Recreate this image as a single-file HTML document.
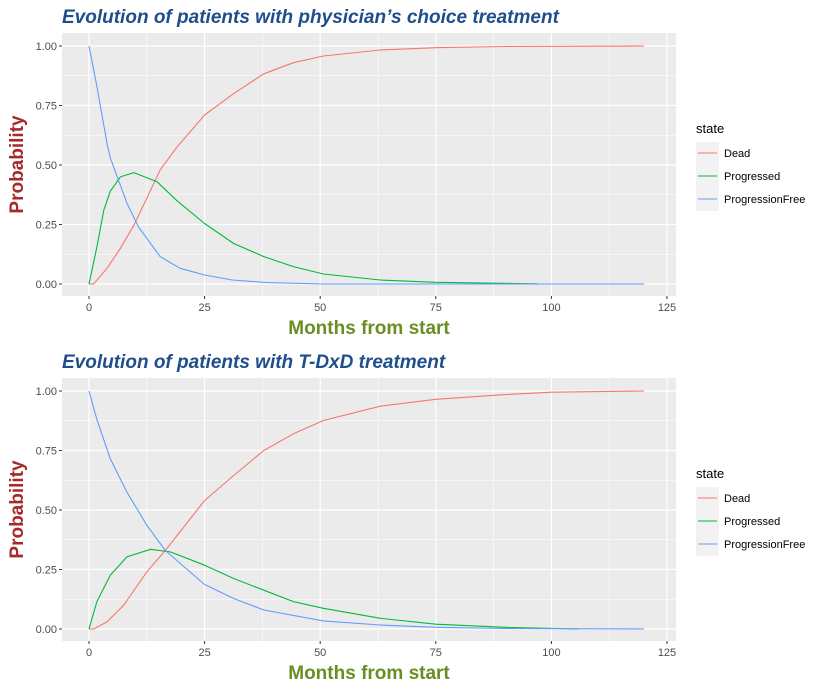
<!DOCTYPE html>
<html><head><meta charset="utf-8"><style>
body{margin:0;background:#fff;width:830px;height:691px;overflow:hidden;font-family:"Liberation Sans",sans-serif}
</style></head><body>
<svg id="s" width="830" height="691" xmlns="http://www.w3.org/2000/svg"></svg>
<script>
const xTicks=[0,25,50,75,100,125];
const yTicks=[0,0.25,0.5,0.75,1];
const yTickLabels=["0.00","0.25","0.50","0.75","1.00"];
const stateNames=["Dead","Progressed","ProgressionFree"];
const titles=["Evolution of patients with physician\u2019s choice treatment","Evolution of patients with T-DxD treatment"];
// top panel (physician's choice)
const p1DeadM=[0,1,3.9,6.8,9.7,12.5,15.4,19,25,31.3,37.8,44.2,50.7,63,75,90,120];
const p1Dead=[0,0,.066,.15,.247,.36,.48,.575,.71,.80,.883,.93,.958,.983,.993,.998,1];
const p1ProgM=[0,1.7,3.2,4.6,6.8,9.7,14.7,19,25,31.3,37.8,44.2,50.7,63,75,97];
const p1Prog=[0,.156,.31,.39,.45,.468,.43,.35,.254,.17,.115,.073,.042,.017,.007,.001];
const p1PFM=[0,1.7,4,4.6,8.2,10.7,15.4,19.7,25,31,38.5,50.7,75,120];
const p1PF=[1,.83,.58,.53,.34,.24,.115,.066,.038,.017,.006,0,0,0];
// bottom panel (T-DxD)
const p2DeadM=[0,1,3.9,7.5,12.5,16.5,25,31.3,37.8,44.2,50.7,63,75,90,100,120];
const p2Dead=[0,0,.03,.1,.24,.33,.54,.645,.75,.82,.876,.936,.965,.985,.995,1];
const p2ProgM=[0,1.7,4.6,8.2,13.3,17.6,25,31.3,37.8,44.2,50.7,63,75,90,106];
const p2Prog=[0,.115,.226,.303,.335,.324,.268,.212,.163,.115,.087,.045,.02,.007,0];
const p2PFM=[0,1.7,4.6,8.2,12.5,16.5,25,31.3,37.8,50.7,63,75,90,120];
const p2PF=[1,.88,.715,.575,.436,.33,.187,.128,.08,.034,.017,.007,.002,0];
const colors=["#F8766D","#00BA38","#619CFF"];
const S=document.getElementById('s');
const NS="http://www.w3.org/2000/svg";
function mk(t,a,p){const e=document.createElementNS(NS,t);for(const k in a)e.setAttribute(k,a[k]);(p||S).appendChild(e);return e;}
function panel(off,title,series,idx){
  const g=mk('g',{});
  
  
  const L=62,R=676,T=33+off,B=296+off;
  const xs=v=>89+v*(667-89)/125;
  const ys=v=>284+off-v*(284-46);
  const t=mk('text',{x:62,y:23+off,'font-size':19,'font-weight':'bold','font-style':'italic',fill:'#1F4E8C'},g);t.textContent=title;
  
  const bg=mk('rect',{x:L,y:T,width:R-L,height:B-T,fill:'#EBEBEB'},g);
  
  for(let i=0;i<xTicks.length-1;i++){const m=(xTicks[i]+xTicks[i+1])/2;mk('line',{x1:xs(m),x2:xs(m),y1:T,y2:B,stroke:'#fff','stroke-width':0.6},g);}
  for(let i=0;i<yTicks.length-1;i++){const m=(yTicks[i]+yTicks[i+1])/2;mk('line',{x1:L,x2:R,y1:ys(m),y2:ys(m),stroke:'#fff','stroke-width':0.6},g);}
  xTicks.forEach(v=>{mk('line',{x1:xs(v),x2:xs(v),y1:T,y2:B,stroke:'#fff','stroke-width':1.2},g);mk('line',{x1:xs(v),x2:xs(v),y1:B,y2:B+3,stroke:'#333'},g);
    const l=mk('text',{x:xs(v),y:B+15,'font-size':11,fill:'#4D4D4D','text-anchor':'middle'},g);l.textContent=v;
    });
  yTicks.forEach((v,i)=>{mk('line',{x1:L,x2:R,y1:ys(v),y2:ys(v),stroke:'#fff','stroke-width':1.2},g);mk('line',{x1:L-3,x2:L,y1:ys(v),y2:ys(v),stroke:'#333'},g);
    const l=mk('text',{x:L-5,y:ys(v)+4,'font-size':11,fill:'#4D4D4D','text-anchor':'end'},g);l.textContent=yTickLabels[i];
    });
  series.forEach((sr,k)=>{
    const months=sr[0],vals=sr[1];
    const pts=vals.map((v,i)=>xs(months[i]).toFixed(1)+','+ys(v).toFixed(1)).join(' ');
    const pl=mk('polyline',{points:pts,fill:'none',stroke:colors[k],'stroke-width':1.1,'stroke-linejoin':'round'},g);
    
    
  });
  const xl=mk('text',{x:(L+R)/2,y:334+off,'font-size':19,'font-weight':'bold',fill:'#6B8E23','text-anchor':'middle'},g);xl.textContent='Months from start';
  
  const yl=mk('text',{x:0,y:0,'font-size':19,'font-weight':'bold',fill:'#A52A2A','text-anchor':'middle',transform:`translate(23,${(T+B)/2}) rotate(-90)`},g);yl.textContent='Probability';
  
  const lg=mk('g',{},g);
  
  const st=mk('text',{x:696,y:133+off,'font-size':13,fill:'#000'},lg);st.textContent='state';
  stateNames.forEach((n,k)=>{const y=153+off+k*23;
    mk('rect',{x:696,y:y-11,width:23,height:23,fill:'#F2F2F2'},lg);
    mk('line',{x1:698,x2:717,y1:y,y2:y,stroke:colors[k],'stroke-width':1.1},lg);
    const tx=mk('text',{x:724,y:y+4,'font-size':11,fill:'#000'},lg);tx.textContent=n;
    });
}
panel(0,titles[0],[[p1DeadM,p1Dead],[p1ProgM,p1Prog],[p1PFM,p1PF]],0);
panel(345,titles[1],[[p2DeadM,p2Dead],[p2ProgM,p2Prog],[p2PFM,p2PF]],1);
</script>
</body></html>
